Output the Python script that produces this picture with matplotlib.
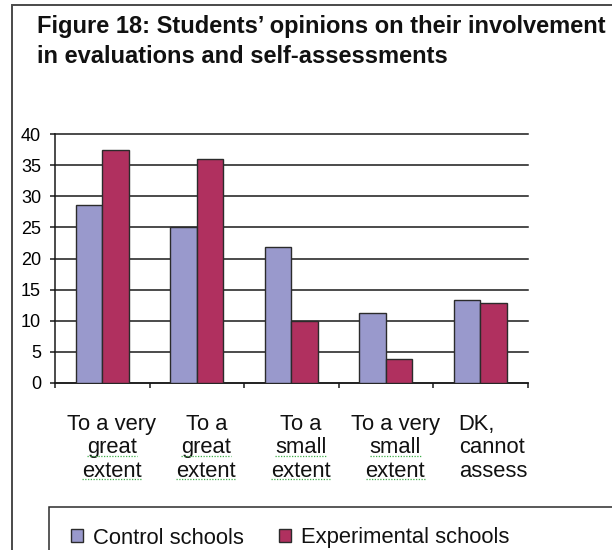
import matplotlib
matplotlib.use("Agg")
import matplotlib.pyplot as plt
import numpy as np
from matplotlib.patches import Rectangle
from matplotlib.lines import Line2D

plt.rcParams['font.family'] = ['Liberation Sans', 'DejaVu Sans']
plt.rcParams['text.color'] = '#111111'

title = "Figure 18: Students’ opinions on their involvement\nin evaluations and self-assessments"
categories = [["To a very", "great", "extent"],
              ["To a", "great", "extent"],
              ["To a", "small", "extent"],
              ["To a very", "small", "extent"],
              ["DK,", "cannot", "assess"]]
control = [28.6, 25.0, 21.8, 11.2, 13.3]
experimental = [37.4, 36.1, 9.9, 3.8, 12.8]
series_names = ["Control schools", "Experimental schools"]
yticks = [0, 5, 10, 15, 20, 25, 30, 35, 40]
# words underlined by the word processor's spell checker
flagged = {"great", "small", "extent"}

W, H = 612, 550
fig = plt.figure(figsize=(W / 100, H / 100), dpi=100)
ax = fig.add_axes([55 / W, 1 - 382.7 / H, (527.7 - 55) / W, (382.7 - 134.3) / H])

x = np.arange(len(control)) + 0.5
w = 0.28
b1 = ax.bar(x - w / 2, control, w, color='#9999CC', edgecolor='#2b2b2b',
            linewidth=1.0, zorder=3, label=series_names[0])
b2 = ax.bar(x + w / 2, experimental, w, color='#B0305F', edgecolor='#2b2b2b',
            linewidth=1.0, zorder=3, label=series_names[1])

ax.set_xlim(0, len(control))
ax.set_ylim(0, 40)
ax.set_yticks(yticks)
ax.set_xticks(np.arange(len(control) + 1))
ax.set_xticklabels([])
ax.yaxis.grid(True, color='#1a1a1a', linewidth=1.1, clip_on=False)
ax.set_axisbelow(True)
for s in ['top', 'right']:
    ax.spines[s].set_visible(False)
for s in ['left', 'bottom']:
    ax.spines[s].set_color('#1a1a1a')
    ax.spines[s].set_linewidth(1.1)
ax.tick_params(axis='y', length=3.6, width=1.1, pad=6.5, labelsize=13, color='#1a1a1a')
ax.tick_params(axis='x', length=3.6, width=1.1, color='#1a1a1a')

# category labels, one text per line
first_base = 34.0   # points below the axis
line_step = 16.9
shift = 0.1
texts = []
for i, lines in enumerate(categories):
    for j, word in enumerate(lines):
        off = first_base + j * line_step
        if i == len(categories) - 1:
            # last label is left-aligned as a block
            ax.annotate(word, xy=(i + 0.27, 0), xytext=(0, -off),
                        textcoords='offset points', ha='left', va='baseline',
                        fontsize=15.8, annotation_clip=False)
        else:
            t = ax.annotate(word, xy=(x[i] + shift, 0), xytext=(0, -off),
                            textcoords='offset points', ha='center', va='baseline',
                            fontsize=15.8, annotation_clip=False)
            if word in flagged:
                texts.append((t, x[i] + shift, off))

# title: baseline of the second line anchors the block
fig.text(37 / W, 1 - 63.3 / H, title, ha='left', va='baseline', fontsize=17,
         fontweight='bold', linespacing=1.4)

# outer frame and legend box, both running off the page
fig.add_artist(Rectangle((12 / W, -0.2), 1.2, 1 - 5 / H + 0.2, transform=fig.transFigure,
                         fill=False, edgecolor='#4a4a4a', linewidth=1.4))
fig.add_artist(Rectangle((49 / W, -0.2), 1.2, 1 - 506.7 / H + 0.2, transform=fig.transFigure,
                         fill=False, edgecolor='#2b2b2b', linewidth=1.1))

fig.legend(handles=[b1, b2], labels=series_names, loc='center left',
           bbox_to_anchor=(71 / W, 1 - 538 / H), ncol=2, frameon=False, fontsize=15.8,
           handlelength=0.55, handleheight=0.55, handletextpad=0.45,
           columnspacing=1.6, borderaxespad=0, borderpad=0)

# dotted green squiggles under flagged words
fig.canvas.draw()
for t, xd, off in texts:
    bb = t.get_window_extent()
    x0, y0 = ax.transData.transform((xd, 0))
    yb = y0 - off * 100 / 72 - 2.5
    fig.add_artist(Line2D([bb.x0 / W, bb.x1 / W], [yb / H, yb / H], transform=fig.transFigure,
                          color='#3fae49', linewidth=0.9, linestyle=(0, (1, 1.2))))

fig.savefig("out.png", dpi=100)
